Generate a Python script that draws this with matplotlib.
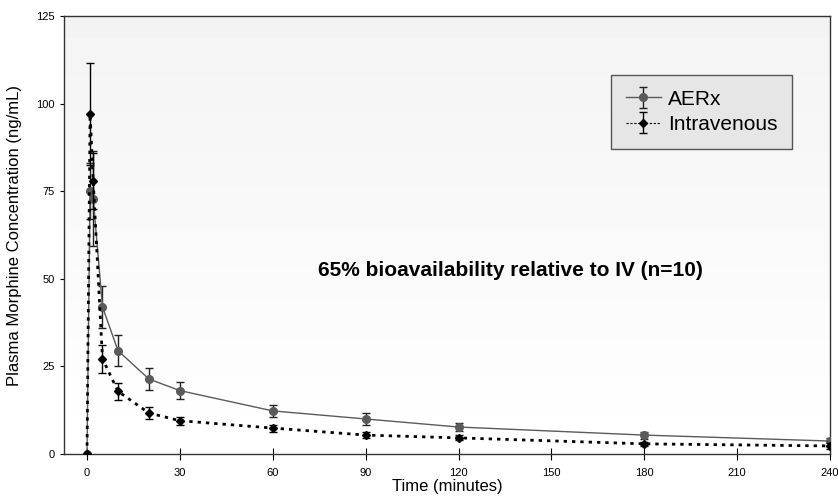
import numpy as np
import matplotlib
matplotlib.use("Agg")
import matplotlib.pyplot as plt
from matplotlib.lines import Line2D

# time points (minutes)
time_min = [0, 1, 2, 5, 10, 20, 30, 60, 90, 120, 180, 240]

# AERx inhaled morphine, mean and error
aerx_mean = [0, 75.0, 72.9, 42.0, 29.5, 21.4, 18.1, 12.3, 10.0, 7.7, 5.4, 3.7]
aerx_err = [0, 8.0, 13.5, 6.0, 4.4, 3.1, 2.5, 1.8, 1.6, 1.2, 1.0, 1.0]

# intravenous morphine, mean and error
iv_mean = [0, 97.0, 77.9, 27.2, 17.9, 11.7, 9.5, 7.4, 5.4, 4.6, 2.9, 2.3]
iv_err = [0, 14.5, 8.0, 4.0, 2.5, 1.6, 1.2, 1.0, 0.8, 0.7, 0.6, 0.8]

x_ticks = [0, 30, 60, 90, 120, 150, 180, 210, 240]
y_ticks = [0, 25, 50, 75, 100, 125]

plt.rcParams['font.family'] = ['Liberation Sans', 'DejaVu Sans']
narrow = ['Liberation Sans Narrow', 'Liberation Sans', 'DejaVu Sans']

fig = plt.figure(figsize=(8.38, 5.04), dpi=100)
ax = fig.add_axes([64 / 838, 0.0992, (830 - 64) / 838, 0.8690])

xmin = -7.43

# soft grey gradient behind the plot area
grad = np.linspace(0.955, 1.0, 100).reshape(-1, 1)
ax.imshow(grad, extent=[xmin, 240, 0, 125], aspect='auto', cmap='gray',
          vmin=0, vmax=1, origin='upper', zorder=0)

ax.errorbar(time_min, aerx_mean, yerr=aerx_err, color='#5a5a5a', lw=1.0,
            marker='o', ms=5.5, mfc='#5a5a5a', mec='#5a5a5a',
            ecolor='#222222', elinewidth=1.0, capsize=3, capthick=1.0,
            label='AERx', zorder=3)
ax.errorbar(time_min, iv_mean, yerr=iv_err, color='black', lw=2.0,
            linestyle=(0, (1.2, 1.8)), marker='D', ms=4, mfc='black',
            mec='black', ecolor='black', elinewidth=1.0, capsize=3,
            capthick=1.0, label='Intravenous', zorder=4)

ax.set_xlim(xmin, 240)
ax.set_ylim(0, 125)
ax.set_xticks(x_ticks)
ax.set_yticks(y_ticks)
ax.tick_params(axis='x', direction='inout', length=8, labelsize=8, pad=6)
ax.tick_params(axis='y', direction='out', length=3, labelsize=8)
for lbl in ax.get_xticklabels() + ax.get_yticklabels():
    lbl.set_family(narrow)
for s in ax.spines.values():
    s.set_color('#333333')
    s.set_linewidth(1.0)

ax.set_xlabel('Time (minutes)', fontsize=12, labelpad=1)
ax.set_ylabel('Plasma Morphine Concentration (ng/mL)', fontsize=12, labelpad=10)

ax.text(136.7, 52.5, '65% bioavailability relative to IV (n=10)', fontsize=15,
        fontweight='bold', ha='center', va='center')

leg = ax.legend(loc='upper left', bbox_to_anchor=(0.714, 0.865), fontsize=15,
                frameon=True, fancybox=False, handlelength=1.7,
                borderpad=0.7, labelspacing=0.3, handletextpad=0.35,
                borderaxespad=0)
leg.get_frame().set_facecolor('#e6e6e6')
leg.get_frame().set_edgecolor('#555555')
leg.get_frame().set_alpha(1)
leg.get_frame().set_linewidth(1.0)

# thin dashed line for the IV entry in the legend, like the reference
for ln in leg.findobj(Line2D):
    if abs(ln.get_linewidth() - 2.0) < 1e-6:
        ln.set_linewidth(0.8)
        ln.set_linestyle((0, (2, 1.5)))

fig.savefig('out.png', dpi=100)
